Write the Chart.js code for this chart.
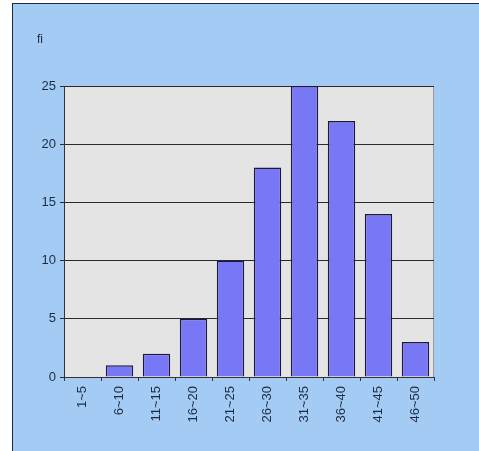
<!DOCTYPE html>
<html>
<head>
<meta charset="utf-8">
<script src="https://cdn.jsdelivr.net/npm/chart.js@4"></script>
<style>
  html, body { margin: 0; padding: 0; background: #ffffff; }
  #frame {
    position: absolute; left: 12px; top: 3px; right: 0; bottom: 0;
    background: #a3cbf3;
    border-left: 1px solid #1c2a3c;
    border-top: 1px solid #1c2a3c;
  }
  #wrap { position: absolute; left: 0; top: 0; width: 479px; height: 451px; }
</style>
</head>
<body>
<div id="frame"></div>
<div id="wrap"><canvas id="histChart" width="479" height="451"></canvas></div>
<script>
// frequency per class interval
const classes = ['1~5', '6~10', '11~15', '16~20', '21~25', '26~30', '31~35', '36~40', '41~45', '46~50'];
const freq = [0, 1, 2, 5, 10, 18, 25, 22, 14, 3];
const yTicks = [0, 5, 10, 15, 20, 25];

const labelFont = 'Arial, "Liberation Sans", sans-serif';

// plot background + light frame on top/right, and the "fi" axis label
const plotDecor = {
  id: 'plotDecor',
  beforeDraw(chart) {
    const { ctx, chartArea: a } = chart;
    ctx.save();
    ctx.fillStyle = '#e4e4e4';
    ctx.fillRect(a.left, a.top, a.right - a.left, a.bottom - a.top);
    ctx.strokeStyle = '#9a9a9a';
    ctx.lineWidth = 1;
    ctx.beginPath();
    ctx.moveTo(a.left, a.top + 0.5);
    ctx.lineTo(a.right - 0.5, a.top + 0.5);
    ctx.lineTo(a.right - 0.5, a.bottom);
    ctx.stroke();
    ctx.fillStyle = '#1e2a40';
    ctx.font = '12px ' + labelFont;
    ctx.textBaseline = 'middle';
    ctx.fillText('fi', 37, 40);
    ctx.restore();
  }
};

const ctx = document.getElementById('histChart').getContext('2d');
new Chart(ctx, {
  type: 'bar',
  data: {
    labels: classes,
    datasets: [{
      data: freq,
      backgroundColor: '#7878f6',
      borderColor: '#1a1a40',
      borderWidth: 1.5,
      categoryPercentage: 0.74,
      barPercentage: 1.0
    }]
  },
  options: {
    responsive: false,
    animation: false,
    layout: { padding: { top: 86, right: 45, left: 0, bottom: 0 } },
    plugins: { legend: { display: false }, tooltip: { enabled: false } },
    scales: {
      x: {
        offset: true,
        grid: { offset: true, drawOnChartArea: false, color: '#333', tickLength: 4 },
        border: { color: '#333', width: 1 },
        ticks: {
          minRotation: 90, maxRotation: 90, padding: 5,
          color: '#1e2a40',
          font: { family: labelFont, size: 13 }
        },
        afterFit(s) { s.height = 74; }
      },
      y: {
        min: 0, max: 25,
        afterBuildTicks(s) { s.ticks = yTicks.map(v => ({ value: v })); },
        grid: { color: '#2a2a2a', tickLength: 4, lineWidth: 1 },
        border: { color: '#333', width: 1 },
        ticks: {
          padding: 4,
          color: '#1e2a40',
          font: { family: labelFont, size: 13 }
        },
        afterFit(s) { s.width = 64; }
      }
    }
  },
  plugins: [plotDecor]
});
</script>
</body>
</html>
